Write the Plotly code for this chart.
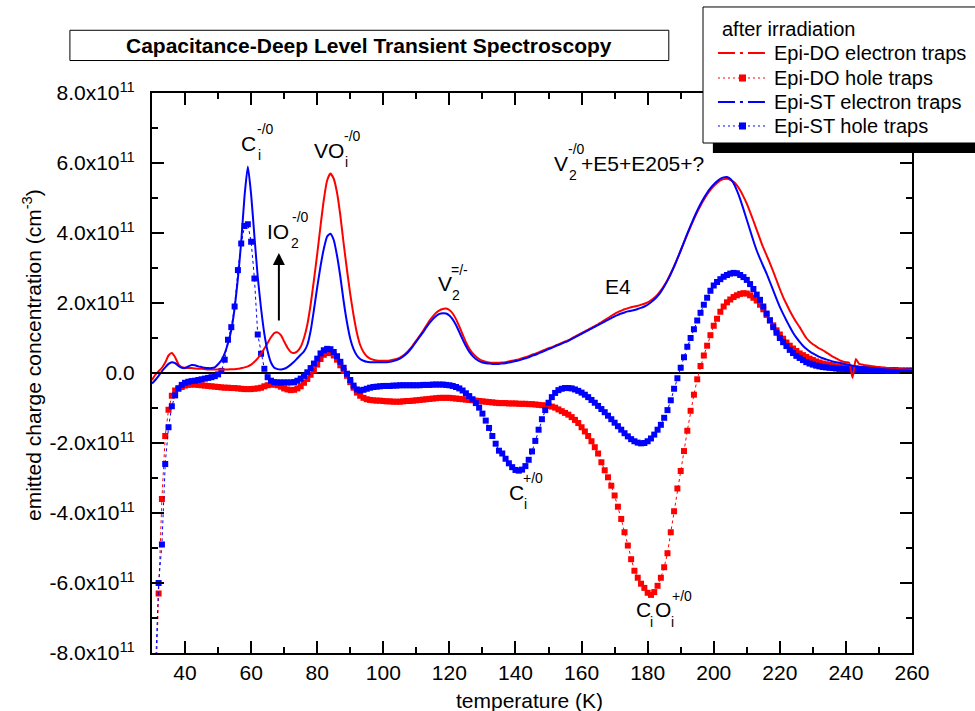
import plotly.graph_objects as go

# Emitted charge concentration, in units of 1e11 cm^-3, sampled every 1 K from 30 K to 260 K
SCALE = 1e11
temperature = list(range(30, 261))

do_electron = [
    -0.20, -0.05, 0.05, 0.15, 0.30, 0.50, 0.57, 0.45, 0.25, 0.17,   # 30
    0.15, 0.14, 0.14, 0.13, 0.12, 0.12, 0.11, 0.10, 0.10, 0.10,     # 40
    0.10, 0.10, 0.10, 0.10, 0.11, 0.11, 0.12, 0.14, 0.16, 0.19,     # 50
    0.24, 0.32, 0.42, 0.55, 0.70, 0.86, 1.02, 1.14, 1.16, 1.08,     # 60
    0.90, 0.72, 0.60, 0.57, 0.62, 0.75, 1.00, 1.38, 1.95, 2.65,     # 70
    3.40, 4.20, 4.95, 5.50, 5.70, 5.55, 5.15, 4.50, 3.70, 2.95,     # 80
    2.25, 1.65, 1.15, 0.80, 0.60, 0.48, 0.41, 0.38, 0.36, 0.35,     # 90
    0.35, 0.35, 0.36, 0.38, 0.40, 0.44, 0.50, 0.58, 0.68, 0.80,     # 100
    0.93, 1.06, 1.20, 1.35, 1.50, 1.62, 1.72, 1.79, 1.83, 1.84,     # 110
    1.80, 1.70, 1.54, 1.33, 1.10, 0.88, 0.70, 0.57, 0.47, 0.40,     # 120
    0.35, 0.32, 0.30, 0.29, 0.29, 0.29, 0.30, 0.31, 0.33, 0.35,     # 130
    0.37, 0.39, 0.42, 0.45, 0.48, 0.52, 0.55, 0.59, 0.63, 0.67,     # 140
    0.71, 0.74, 0.78, 0.82, 0.86, 0.90, 0.94, 0.99, 1.04, 1.09,     # 150
    1.14, 1.19, 1.24, 1.29, 1.34, 1.39, 1.45, 1.51, 1.57, 1.63,     # 160
    1.69, 1.74, 1.78, 1.82, 1.85, 1.88, 1.90, 1.92, 1.95, 1.98,     # 170
    2.02, 2.08, 2.15, 2.24, 2.36, 2.50, 2.66, 2.85, 3.05, 3.27,     # 180
    3.50, 3.73, 3.96, 4.18, 4.40, 4.60, 4.78, 4.95, 5.10, 5.23,     # 190
    5.34, 5.43, 5.50, 5.54, 5.55, 5.52, 5.46, 5.36, 5.22, 5.04,     # 200
    4.84, 4.60, 4.35, 4.09, 3.83, 3.58, 3.36, 3.14, 2.90, 2.65,     # 210
    2.40, 2.17, 1.97, 1.78, 1.61, 1.45, 1.31, 1.15, 1.00, 0.90,     # 220
    0.82, 0.76, 0.70, 0.65, 0.59, 0.53, 0.47, 0.42, 0.37, 0.33,     # 230
    0.31, 0.29, -0.14, 0.40, 0.26, 0.24, 0.22, 0.21, 0.19, 0.18,    # 240
    0.17, 0.16, 0.15, 0.14, 0.13, 0.12, 0.11, 0.11, 0.10, 0.10,     # 250
    0.09,                                                           # 260
]

do_hole = [
    -12.0, -9.5, -6.3, -3.6, -1.80, -1.05, -0.65, -0.50, -0.43, -0.40,   # 30
    -0.36, -0.34, -0.33, -0.33, -0.34, -0.35, -0.36, -0.37, -0.38, -0.39, # 40
    -0.40, -0.41, -0.42, -0.42, -0.43, -0.43, -0.44, -0.45, -0.46, -0.46, # 50
    -0.46, -0.45, -0.44, -0.42, -0.38, -0.35, -0.33, -0.33, -0.35, -0.39, # 60
    -0.44, -0.47, -0.49, -0.48, -0.44, -0.38, -0.28, -0.17, -0.05, 0.08,  # 70
    0.24, 0.40, 0.52, 0.57, 0.57, 0.50, 0.38, 0.22, 0.06, -0.08,          # 80
    -0.26, -0.42, -0.56, -0.65, -0.71, -0.75, -0.77, -0.78, -0.79, -0.79, # 90
    -0.80, -0.81, -0.81, -0.82, -0.82, -0.82, -0.81, -0.80, -0.80, -0.79, # 100
    -0.78, -0.77, -0.76, -0.75, -0.74, -0.73, -0.72, -0.71, -0.71, -0.71, # 110
    -0.71, -0.72, -0.73, -0.74, -0.75, -0.76, -0.77, -0.78, -0.79, -0.80, # 120
    -0.81, -0.82, -0.83, -0.84, -0.85, -0.86, -0.86, -0.86, -0.87, -0.87, # 130
    -0.87, -0.88, -0.88, -0.88, -0.89, -0.89, -0.90, -0.91, -0.92, -0.93, # 140
    -0.94, -0.96, -0.99, -1.04, -1.09, -1.14, -1.19, -1.26, -1.34, -1.43, # 150
    -1.55, -1.67, -1.80, -1.95, -2.12, -2.30, -2.55, -2.78, -2.98, -3.22, # 160
    -3.50, -3.82, -4.17, -4.55, -4.93, -5.32, -5.65, -5.85, -6.02, -6.14, # 170
    -6.28, -6.34, -6.26, -6.08, -5.85, -5.55, -5.15, -4.55, -3.95, -3.30, # 180
    -2.80, -2.23, -1.65, -1.08, -0.62, -0.18, 0.20, 0.50, 0.78, 1.08,     # 190
    1.35, 1.55, 1.75, 1.90, 2.02, 2.10, 2.17, 2.22, 2.26, 2.28,           # 200
    2.27, 2.22, 2.15, 2.07, 1.95, 1.82, 1.66, 1.51, 1.36, 1.22,           # 210
    1.10, 0.98, 0.87, 0.78, 0.70, 0.63, 0.56, 0.51, 0.46, 0.41,           # 220
    0.37, 0.33, 0.30, 0.27, 0.25, 0.23, 0.21, 0.19, 0.17, 0.16,           # 230
    0.15, 0.14, 0.13, 0.12, 0.12, 0.11, 0.11, 0.10, 0.10, 0.09,           # 240
    0.09, 0.09, 0.08, 0.08, 0.08, 0.08, 0.07, 0.07, 0.07, 0.07,           # 250
    0.07,                                                                 # 260
]

st_electron = [
    -0.30, -0.20, -0.08, 0.05, 0.16, 0.26, 0.31, 0.28, 0.20, 0.15,  # 30
    0.14, 0.19, 0.23, 0.22, 0.19, 0.17, 0.15, 0.14, 0.14, 0.16,     # 40
    0.25, 0.36, 0.56, 0.85, 1.23, 1.85, 2.70, 3.75, 5.05, 5.90,     # 50
    5.10, 3.90, 2.75, 1.85, 1.12, 0.62, 0.30, 0.15, 0.11, 0.10,     # 60
    0.12, 0.17, 0.24, 0.32, 0.42, 0.52, 0.62, 0.80, 1.20, 1.80,     # 70
    2.45, 3.05, 3.55, 3.90, 3.98, 3.80, 3.35, 2.75, 2.05, 1.45,     # 80
    0.98, 0.68, 0.50, 0.40, 0.35, 0.32, 0.31, 0.31, 0.31, 0.31,     # 90
    0.31, 0.31, 0.32, 0.34, 0.37, 0.41, 0.47, 0.55, 0.65, 0.77,     # 100
    0.90, 1.03, 1.16, 1.30, 1.43, 1.54, 1.63, 1.69, 1.71, 1.70,     # 110
    1.64, 1.53, 1.37, 1.17, 0.96, 0.77, 0.61, 0.49, 0.40, 0.34,     # 120
    0.30, 0.28, 0.27, 0.26, 0.26, 0.26, 0.27, 0.28, 0.30, 0.32,     # 130
    0.34, 0.36, 0.39, 0.42, 0.45, 0.49, 0.52, 0.56, 0.60, 0.64,     # 140
    0.68, 0.72, 0.76, 0.80, 0.84, 0.88, 0.92, 0.97, 1.02, 1.07,     # 150
    1.12, 1.17, 1.22, 1.27, 1.32, 1.37, 1.42, 1.47, 1.52, 1.57,     # 160
    1.62, 1.66, 1.70, 1.73, 1.76, 1.78, 1.80, 1.83, 1.86, 1.90,     # 170
    1.95, 2.02, 2.10, 2.20, 2.32, 2.47, 2.64, 2.83, 3.04, 3.27,     # 180
    3.50, 3.74, 3.98, 4.21, 4.43, 4.64, 4.83, 5.00, 5.15, 5.28,     # 190
    5.39, 5.48, 5.55, 5.59, 5.60, 5.55, 5.42, 5.22, 4.97, 4.68,     # 200
    4.38, 4.08, 3.78, 3.50, 3.27, 3.05, 2.84, 2.60, 2.36, 2.12,     # 210
    1.89, 1.69, 1.50, 1.32, 1.15, 1.01, 0.89, 0.78, 0.69, 0.62,     # 220
    0.56, 0.51, 0.46, 0.42, 0.39, 0.36, 0.33, 0.31, 0.29, 0.27,     # 230
    0.25, 0.23, 0.21, 0.19, 0.18, 0.17, 0.16, 0.15, 0.14, 0.13,     # 240
    0.12, 0.11, 0.10, 0.10, 0.09, 0.09, 0.08, 0.08, 0.07, 0.07,     # 250
    0.06,                                                           # 260
]

st_hole = [
    -12.0, -8.6, -6.0, -4.9, -2.60, -1.55, -0.95, -0.64, -0.45, -0.34,    # 30
    -0.28, -0.25, -0.23, -0.22, -0.20, -0.18, -0.16, -0.14, -0.12, -0.09, # 40
    -0.04, 0.06, 0.38, 0.95, 1.31, 1.90, 2.94, 3.70, 4.20, 4.25,          # 50
    3.75, 2.70, 1.10, 0.55, 0.12, -0.12, -0.22, -0.26, -0.27, -0.27,      # 60
    -0.27, -0.27, -0.27, -0.26, -0.22, -0.16, -0.08, 0.02, 0.14, 0.27,    # 70
    0.41, 0.56, 0.65, 0.69, 0.68, 0.60, 0.48, 0.32, 0.15, -0.02,          # 80
    -0.20, -0.36, -0.47, -0.50, -0.48, -0.45, -0.42, -0.40, -0.39, -0.38, # 90
    -0.37, -0.37, -0.37, -0.36, -0.36, -0.35, -0.35, -0.35, -0.35, -0.35, # 100
    -0.35, -0.35, -0.34, -0.34, -0.34, -0.33, -0.33, -0.33, -0.33, -0.34, # 110
    -0.35, -0.37, -0.40, -0.44, -0.50, -0.58, -0.66, -0.75, -0.86, -0.99, # 120
    -1.16, -1.36, -1.57, -1.80, -2.02, -2.22, -2.30, -2.45, -2.58, -2.69, # 130
    -2.77, -2.79, -2.76, -2.66, -2.48, -2.24, -1.94, -1.62, -1.32, -1.06, # 140
    -0.85, -0.69, -0.57, -0.49, -0.45, -0.43, -0.43, -0.44, -0.47, -0.51, # 150
    -0.56, -0.62, -0.69, -0.77, -0.85, -0.94, -1.03, -1.12, -1.22, -1.32, # 160
    -1.42, -1.52, -1.62, -1.72, -1.81, -1.89, -1.95, -1.99, -2.01, -2.00, # 170
    -1.95, -1.87, -1.76, -1.62, -1.48, -1.28, -1.06, -0.78, -0.45, -0.15, # 180
    0.15, 0.45, 0.75, 1.00, 1.25, 1.50, 1.72, 1.95, 2.15, 2.35,           # 190
    2.50, 2.60, 2.68, 2.75, 2.80, 2.84, 2.86, 2.85, 2.80, 2.74,           # 200
    2.66, 2.54, 2.40, 2.24, 2.09, 1.90, 1.70, 1.50, 1.31, 1.15,           # 210
    1.00, 0.88, 0.77, 0.66, 0.57, 0.49, 0.43, 0.37, 0.31, 0.27,           # 220
    0.24, 0.21, 0.19, 0.17, 0.16, 0.15, 0.14, 0.13, 0.12, 0.12,           # 230
    0.11, 0.11, 0.10, 0.10, 0.10, 0.09, 0.09, 0.09, 0.08, 0.08,           # 240
    0.08, 0.08, 0.07, 0.07, 0.07, 0.07, 0.06, 0.06, 0.06, 0.06,           # 250
    0.06,                                                                 # 260
]

x_ticks = list(range(40, 261, 20))
x_minor = list(range(50, 260, 20))
y_ticks = [-8, -6, -4, -2, 0, 2, 4, 6, 8]
y_minor = [-7, -5, -3, -1, 1, 3, 5, 7]
y_ticktext = ["0.0" if v == 0 else "%.1fx10<sup>11</sup>" % v for v in y_ticks]

legend_title = "after irradiation"
legend_names = ["Epi-DO electron traps", "Epi-DO hole traps",
                "Epi-ST electron traps", "Epi-ST hole traps"]

RED = "#ff0000"
BLUE = "#0000ff"
FONT = "Liberation Sans, Arial, sans-serif"


def scaled(values):
    return [v * SCALE for v in values]


fig = go.Figure()

# hole traps: square symbols joined by thin dotted lines
for values, color in [(do_hole, RED), (st_hole, BLUE)]:
    fig.add_trace(go.Scatter(
        x=temperature, y=scaled(values), mode="lines+markers",
        line=dict(color=color, width=1, dash="dot"),
        marker=dict(symbol="square", size=6, color=color, line=dict(width=0)),
        showlegend=False, hoverinfo="skip"))

# electron traps: continuous curves
for values, color in [(do_electron, RED), (st_electron, BLUE)]:
    fig.add_trace(go.Scatter(
        x=temperature, y=scaled(values), mode="lines",
        line=dict(color=color, width=2, shape="spline", smoothing=0.5),
        showlegend=False, hoverinfo="skip"))

axis_common = dict(
    ticks="inside", ticklen=12, tickwidth=2, tickcolor="black",
    showline=True, linewidth=2, linecolor="black", mirror="ticks",
    showgrid=False, tickfont=dict(size=21, family=FONT, color="black"),
)

fig.update_layout(
    width=975, height=711,
    margin=dict(l=152, r=63, t=93, b=58),
    paper_bgcolor="white", plot_bgcolor="white",
    font=dict(family=FONT, size=21, color="black"),
    showlegend=False,
    xaxis=dict(
        range=[30, 260], tickmode="array", tickvals=x_ticks, zeroline=False,
        minor=dict(tickvals=x_minor, ticks="inside", ticklen=6, tickwidth=2, tickcolor="black"),
        **axis_common),
    yaxis=dict(
        range=[-8 * SCALE, 8 * SCALE], tickmode="array",
        tickvals=scaled(y_ticks), ticktext=y_ticktext, ticklabelstandoff=11,
        minor=dict(tickvals=scaled(y_minor), ticks="inside", ticklen=6, tickwidth=2, tickcolor="black"),
        zeroline=True, zerolinecolor="black", zerolinewidth=2,
        **axis_common),
)

# ---- legend panel (paper coordinates) with a drop shadow ----
fig.add_shape(type="rect", xref="paper", yref="paper",
              x0=0.738, x1=1.14, y0=0.893, y1=1.136,
              fillcolor="black", line=dict(width=0), layer="above")
fig.add_shape(type="rect", xref="paper", yref="paper",
              x0=0.725, x1=1.12, y0=0.9107, y1=1.1536,
              fillcolor="white", line=dict(color="black", width=1), layer="above")
fig.add_annotation(xref="paper", yref="paper", x=0.7474, y=1.1143,
                   text=legend_title, showarrow=False, xanchor="left", yanchor="middle",
                   font=dict(size=20, family=FONT, color="black"))

row_y = [1.0714, 1.0268, 0.9839, 0.9411]
key_x0, key_x1, key_xc, text_x = 0.7447, 0.8092, 0.7770, 0.8158
legend_styles = [(RED, False), (RED, True), (BLUE, False), (BLUE, True)]
for name, (color, hole), yy in zip(legend_names, legend_styles, row_y):
    if hole:
        fig.add_shape(type="line", xref="paper", yref="paper",
                      x0=key_x0, x1=key_x1, y0=yy, y1=yy, layer="above",
                      line=dict(color=color, width=1, dash="2px,3px"))
        fig.add_shape(type="rect", xref="paper", yref="paper",
                      x0=key_xc - 0.0046, x1=key_xc + 0.0046,
                      y0=yy - 0.0063, y1=yy + 0.0063, layer="above",
                      fillcolor=color, line=dict(width=0))
    else:
        fig.add_shape(type="line", xref="paper", yref="paper",
                      x0=key_x0, x1=key_x1, y0=yy, y1=yy, layer="above",
                      line=dict(color=color, width=2, dash="17px,5px,3px,5px"))
    fig.add_annotation(xref="paper", yref="paper", x=text_x, y=yy,
                       text=name, showarrow=False, xanchor="left", yanchor="middle",
                       font=dict(size=20, family=FONT, color="black"))

# boxed title
fig.add_shape(type="rect", xref="paper", yref="paper",
              x0=-0.108, x1=0.68, y0=1.058, y1=1.112,
              fillcolor="white", line=dict(color="black", width=1))
fig.add_annotation(xref="paper", yref="paper", x=0.286, y=1.085,
                   text="<b>Capacitance-Deep Level Transient Spectroscopy</b>",
                   showarrow=False, font=dict(size=21, family=FONT, color="black"),
                   xanchor="center", yanchor="middle")

# axis titles
fig.add_annotation(xref="paper", yref="paper", x=0.497, y=-0.084,
                   text="temperature (K)", showarrow=False,
                   font=dict(size=21, family=FONT), xanchor="center", yanchor="middle")
fig.add_annotation(xref="paper", yref="paper", x=-0.158, y=0.532,
                   text="emitted charge concentration (cm<sup>-3</sup>)", showarrow=False,
                   textangle=-90, font=dict(size=21, family=FONT),
                   xanchor="center", yanchor="middle")


# defect labels: base text with stacked subscript / superscript
def defect_label(x, y, base, sub=None, sub_x=None, sup=None, sup_x=None):
    fig.add_annotation(x=x, y=y * SCALE, text=base, showarrow=False,
                       xanchor="left", yanchor="middle",
                       font=dict(size=21, family=FONT, color="black"))
    if sub:
        fig.add_annotation(x=sub_x, y=(y - 0.33) * SCALE, text=sub, showarrow=False,
                           xanchor="left", yanchor="middle",
                           font=dict(size=14, family=FONT, color="black"))
    if sup:
        fig.add_annotation(x=sup_x, y=(y + 0.40) * SCALE, text=sup, showarrow=False,
                           xanchor="left", yanchor="middle",
                           font=dict(size=14, family=FONT, color="black"))


defect_label(56.4, 6.57, "C", "i", 61.4, "-/0", 61.2)
defect_label(78.5, 6.37, "VO", "i", 87.9, "-/0", 87.6)
defect_label(64.3, 4.05, "IO", "2", 71.6, "-/0", 71.8)
defect_label(116.0, 2.55, "V", "2", 120.3, "=/-", 120.0)
defect_label(166.6, 2.46, "E4")
defect_label(151.1, 6.00, "V", "2", 155.6, "-/0", 155.3)
fig.add_annotation(x=159.3, y=6.00 * SCALE, text="+E5+E205+?", showarrow=False,
                   xanchor="left", yanchor="middle", font=dict(size=21, family=FONT))
defect_label(137.5, -3.40, "C", "i", 142.1, "+/0", 141.8)
defect_label(176.0, -6.77, "C", "i", 180.2, None)
defect_label(181.7, -6.77, "O", "i", 186.6, "+/0", 186.8)

# arrow marking the IO2 growth
fig.add_annotation(x=68.4, y=3.43 * SCALE, ax=68.4, ay=1.46 * SCALE,
                   xref="x", yref="y", axref="x", ayref="y", text="",
                   showarrow=True, arrowhead=2, arrowsize=1.2, arrowwidth=2,
                   arrowcolor="black")

fig.write_html("out.html")
